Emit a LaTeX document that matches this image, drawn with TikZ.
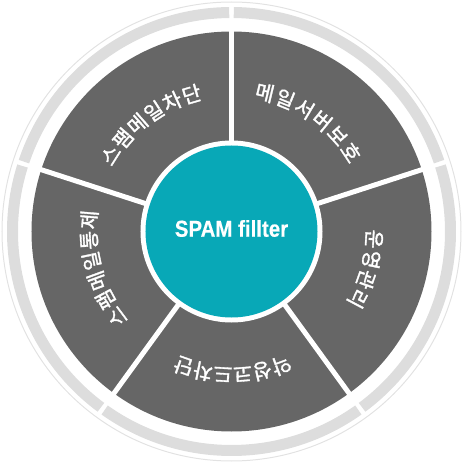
\documentclass[tikz,border=0pt]{standalone}
\usepackage{fontspec}
\setmainfont{Liberation Sans}
\newfontfamily\kr{Noto Sans CJK KR}[FakeBold=1.6]
\newfontfamily\titlefont{Liberation Sans}[FakeBold=0.4]
\definecolor{segdark}{HTML}{666666}
\definecolor{hubteal}{HTML}{08A8B7}
\definecolor{ringgray}{HTML}{DDDDDD}
\definecolor{thingray}{HTML}{E2E2E2}
\newcommand\arclabel[4]{% #1 name, #2 mid angle, #3 step, #4 chars
  \foreach \c [count=\i] in {#4} {\global\let\lastcount\i}%
  \foreach \c [count=\i] in {#4} {%
    \pgfmathsetmacro\ang{#2 + ((\lastcount+1)/2 - \i)*#3}%
    \node[ch, rotate=\ang-90] (#1-\i) at (\ang:143) {\c};%
  }%
}
\begin{document}
\begin{tikzpicture}[x=1pt,y=1pt,
  ch/.style={text=white, font=\kr\fontsize{20.5}{20.5}\selectfont, inner sep=0pt,
    text height=17pt, text depth=1.4pt, anchor=center},
  ringarc/.style={ringgray, line width=11pt},
  divider/.style={white, line width=5pt}]
\useasboundingbox (-231.5,-231.5) rectangle (231.5,231.5);
\draw[thingray, line width=1pt] (0,0) circle[radius=229.5];
\foreach \a in {18,90,162,234,306} {
  \draw[ringarc] (\a+0.6:219) arc[start angle=\a+0.6, end angle=\a+71.4, radius=219];
}
\fill[segdark] (0,0) circle[radius=200];
\foreach \a in {18,90,162,234,306} \draw[divider] (\a:80) -- (\a:203);
\fill[white] (0,0) circle[radius=91];
\node[circle, fill=hubteal, minimum size=172pt, inner sep=0pt] (hub) at (0,0) {};
\node[text=white, font=\titlefont\bfseries\fontsize{23}{26}\selectfont, inner sep=0pt, xscale=0.89] (title) at (0,3) {SPAM fillter};
\arclabel{a}{127}{8.3}{스,팸,메,일,차,단}
\arclabel{b}{55}{8.6}{메,일,서,버,보,호}
\arclabel{c}{-15.5}{8.3}{운,영,관,리}
\arclabel{d}{-89.5}{8.0}{악,성,코,드,차,단}
\arclabel{e}{196}{8.3}{스,팸,메,일,통,제}
\end{tikzpicture}
\end{document}
